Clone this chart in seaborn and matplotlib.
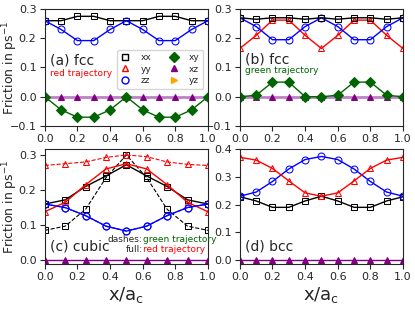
import numpy as np
import pandas as pd
import matplotlib
matplotlib.use("Agg")
import matplotlib.pyplot as plt
from matplotlib.lines import Line2D
import seaborn as sns

# positions along the path
x_fcc = [0.0, 0.1, 0.2, 0.3, 0.4, 0.5, 0.6, 0.7, 0.8, 0.9, 1.0]
x_cub = [0.0, 0.125, 0.25, 0.375, 0.5, 0.625, 0.75, 0.875, 1.0]

# (a) fcc, red trajectory
a_xx = [0.26, 0.26, 0.275, 0.275, 0.26, 0.26, 0.26, 0.275, 0.275, 0.26, 0.26]
a_zz = [0.26, 0.23, 0.192, 0.192, 0.23, 0.26, 0.23, 0.192, 0.192, 0.23, 0.26]
a_xy = [0.0, -0.045, -0.07, -0.07, -0.045, 0.0, -0.045, -0.07, -0.07, -0.045, 0.0]
a_xz = [0.0] * 11

# (b) fcc, green trajectory
b_xx = [0.27, 0.265, 0.27, 0.27, 0.265, 0.27, 0.265, 0.27, 0.27, 0.265, 0.27]
b_yy = [0.165, 0.21, 0.262, 0.262, 0.21, 0.165, 0.21, 0.262, 0.262, 0.21, 0.165]
b_zz = [0.27, 0.24, 0.195, 0.195, 0.24, 0.27, 0.24, 0.195, 0.195, 0.24, 0.27]
b_xy = [0.0, 0.005, 0.05, 0.05, 0.0, 0.0, 0.005, 0.05, 0.05, 0.005, 0.0]
b_xz = [0.0] * 11

# (c) cubic, full = red trajectory, dashes = green trajectory
c_xx_full = [0.16, 0.172, 0.21, 0.24, 0.272, 0.24, 0.21, 0.172, 0.16]
c_yy_full = [0.138, 0.165, 0.215, 0.26, 0.275, 0.26, 0.215, 0.165, 0.138]
c_zz_full = [0.16, 0.15, 0.127, 0.097, 0.083, 0.097, 0.127, 0.15, 0.16]
c_xx_dash = [0.085, 0.097, 0.145, 0.235, 0.30, 0.235, 0.145, 0.097, 0.085]
c_yy_dash = [0.27, 0.275, 0.28, 0.293, 0.30, 0.295, 0.28, 0.273, 0.27]
c_xz = [0.0] * 9

# (d) bcc
d_xx = [0.228, 0.213, 0.19, 0.19, 0.213, 0.23, 0.213, 0.19, 0.19, 0.213, 0.228]
d_yy = [0.37, 0.36, 0.33, 0.285, 0.242, 0.23, 0.242, 0.285, 0.33, 0.36, 0.37]
d_zz = [0.23, 0.245, 0.283, 0.328, 0.362, 0.373, 0.362, 0.328, 0.283, 0.245, 0.23]
d_xz = [0.0] * 11

sns.set_style("ticks")
plt.rcParams["font.family"] = ["DejaVu Sans"]

STY = {
    "xx": dict(color="k", marker="s", mfc="none"),
    "yy": dict(color="red", marker="^", mfc="none"),
    "zz": dict(color="blue", marker="o", mfc="none"),
    "xy": dict(color="darkgreen", marker="D", mfc="darkgreen"),
    "xz": dict(color="purple", marker="^", mfc="purple"),
    "yz": dict(color="orange", marker=">", mfc="orange"),
}


def curve(ax, x, y, comp, ls="-", ms=5, lw=1.0):
    s = STY[comp]
    sns.lineplot(x=x, y=y, ax=ax, color=s["color"], marker=s["marker"],
                 markerfacecolor=s["mfc"], markeredgecolor=s["color"],
                 markersize=ms, linestyle=ls, linewidth=lw)


fig = plt.figure(figsize=(4.15, 3.11), dpi=100)
axa = fig.add_axes([0.108, 0.595, 0.393, 0.376])
axb = fig.add_axes([0.578, 0.595, 0.393, 0.376])
axc = fig.add_axes([0.108, 0.151, 0.393, 0.370])
axd = fig.add_axes([0.578, 0.151, 0.393, 0.370])

# (a)
curve(axa, x_fcc, a_xz, "xz", lw=2)
axa.lines[-1].set_color("#c080c8")
curve(axa, x_fcc, a_xy, "xy", ms=5.5)
curve(axa, x_fcc, a_xx, "xx")
curve(axa, x_fcc, a_zz, "zz")
axa.set_ylim(-0.1, 0.3)
axa.text(0.03, 0.56, "(a) fcc", transform=axa.transAxes, fontsize=10, va="center")
axa.text(0.03, 0.45, "red trajectory", transform=axa.transAxes, fontsize=6.5,
         color="red", va="center")
handles = [Line2D([], [], linestyle="none", marker=STY[k]["marker"],
                  color=STY[k]["color"], markerfacecolor=STY[k]["mfc"],
                  markersize=5)
           for k in ["xx", "yy", "zz", "xy", "xz", "yz"]]
axa.legend(handles, ["xx", "yy", "zz", "xy", "xz", "yz"], ncol=2, fontsize=6.5,
           loc="upper right", bbox_to_anchor=(1.0, 0.69), handletextpad=1.2,
           columnspacing=2.0, labelspacing=0.25, borderpad=0.4, handlelength=1)

# (b)
curve(axb, x_fcc, b_xz, "xz", lw=2)
axb.lines[-1].set_color("#c080c8")
curve(axb, x_fcc, b_xy, "xy", ms=5.5)
curve(axb, x_fcc, b_yy, "yy")
curve(axb, x_fcc, b_zz, "zz")
curve(axb, x_fcc, b_xx, "xx")
axb.set_ylim(-0.1, 0.3)
axb.text(0.03, 0.57, "(b) fcc", transform=axb.transAxes, fontsize=10, va="center")
axb.text(0.03, 0.47, "green trajectory", transform=axb.transAxes, fontsize=6.5,
         color="darkgreen", va="center")

# (c)
curve(axc, x_cub, c_xz, "xz")
curve(axc, x_cub, c_xx_dash, "xx", ls="--", lw=0.8)
curve(axc, x_cub, c_yy_dash, "yy", ls="--", lw=0.8)
curve(axc, x_cub, c_zz_full, "zz", ls="--", lw=0.8)
curve(axc, x_cub, c_xx_full, "xx")
curve(axc, x_cub, c_yy_full, "yy")
curve(axc, x_cub, c_zz_full, "zz")
axc.set_ylim(-0.011, 0.317)
axc.set_yticks([0.0, 0.1, 0.2, 0.3])
axc.text(0.03, 0.15, "(c) cubic", transform=axc.transAxes, fontsize=10, va="center")
axc.text(0.60, 0.21, "dashes:", transform=axc.transAxes, fontsize=6.5, ha="right", va="center")
axc.text(0.605, 0.21, "green trajectory", transform=axc.transAxes, fontsize=6.5,
         color="darkgreen", va="center")
axc.text(0.60, 0.13, "full:", transform=axc.transAxes, fontsize=6.5, ha="right", va="center")
axc.text(0.605, 0.13, "red trajectory", transform=axc.transAxes, fontsize=6.5,
         color="red", va="center")

# (d)
curve(axd, x_fcc, d_xz, "xz")
curve(axd, x_fcc, d_xx, "xx")
curve(axd, x_fcc, d_zz, "zz")
curve(axd, x_fcc, d_yy, "yy")
axd.set_ylim(-0.014, 0.4)
axd.set_yticks([0.0, 0.1, 0.2, 0.3, 0.4])
axd.text(0.03, 0.15, "(d) bcc", transform=axd.transAxes, fontsize=10, va="center")

for ax in [axa, axb, axc, axd]:
    ax.set_xlim(0, 1)
    ax.set_xticks([0.0, 0.2, 0.4, 0.6, 0.8, 1.0])
    ax.tick_params(labelsize=8, length=3.5, width=0.8, pad=2.5)
    ax.set_xlabel("")
    ax.set_ylabel("")
    for sp in ax.spines.values():
        sp.set_visible(True)
        sp.set_linewidth(0.8)

axa.set_ylabel("Friction in ps$^{-1}$", fontsize=9)
axc.set_ylabel("Friction in ps$^{-1}$", fontsize=9)
axa.yaxis.set_label_coords(-0.15, 0.5)
axc.yaxis.set_label_coords(-0.15, 0.5)
axc.set_xlabel("x/a$_\\mathrm{c}$", fontsize=13, labelpad=2)
axd.set_xlabel("x/a$_\\mathrm{c}$", fontsize=13, labelpad=2)

fig.savefig("out.png", dpi=100)
